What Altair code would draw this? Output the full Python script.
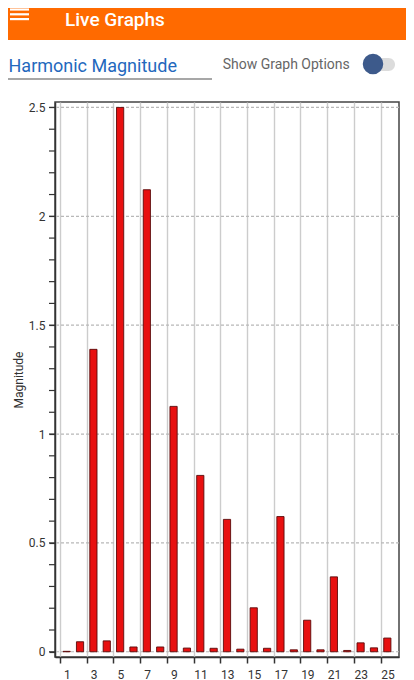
import altair as alt
import pandas as pd

# ---- data ----
harmonics = list(range(1, 26))
magnitudes = [0.002, 0.046, 1.389, 0.050, 2.500, 0.022, 2.122, 0.022, 1.127, 0.017,
              0.810, 0.016, 0.608, 0.012, 0.202, 0.016, 0.621, 0.009, 0.145, 0.009,
              0.344, 0.006, 0.041, 0.018, 0.063]
x_tick_positions = [0.5, 2.5, 4.5, 6.5, 8.5, 10.5, 12.5, 14.5, 16.5, 18.5, 20.5, 22.5, 24.5]
x_tick_labels = ["1", "3", "5", "7", "9", "11", "13", "15", "17", "19", "21", "23", "25"]
y_minor_ticks = [0.0, 0.1, 0.2, 0.3, 0.4, 0.5, 0.6, 0.7, 0.8, 0.9, 1.0, 1.1, 1.2, 1.3,
                 1.4, 1.5, 1.6, 1.7, 1.8, 1.9, 2.0, 2.1, 2.2, 2.3, 2.4, 2.5]
y_label_values = [0.0, 0.5, 1.0, 1.5, 2.0, 2.5]
y_label_texts = ["0", "0.5", "1", "1.5", "2", "2.5"]
y_grid_values = [0.0, 0.5, 1.0, 1.5, 2.0, 2.5]

app_title = "Live Graphs"
chart_title = "Harmonic Magnitude"
options_label = "Show Graph Options"
y_title = "Magnitude"

FONT = "Roboto"
W, H = 344, 555
X_DOMAIN = [0.5, 25.5]
Y_DOMAIN = [-0.024, 2.525]

df = pd.DataFrame({"harmonic": harmonics, "magnitude": magnitudes})
grid_df = pd.DataFrame({"g": y_grid_values})
minor_df = pd.DataFrame({"t": y_minor_ticks})
one = pd.DataFrame({"d": [0]})

x_label_expr = " : ".join(
    f"abs(datum.value - {p}) < 0.001 ? '{l}'" for p, l in zip(x_tick_positions, x_tick_labels)
) + " : ''"
y_label_expr = " : ".join(
    f"abs(datum.value - {v}) < 0.001 ? '{t}'" for v, t in zip(y_label_values, y_label_texts)
) + " : ''"

xscale = alt.Scale(domain=X_DOMAIN, nice=False, zero=False)
yscale = alt.Scale(domain=Y_DOMAIN, nice=False, zero=False)

bars = alt.Chart(df).mark_bar(
    width=7.2, color="#e81010", stroke="#5a0a0a", strokeWidth=0.9
).encode(
    x=alt.X("harmonic:Q", scale=xscale,
            axis=alt.Axis(values=x_tick_positions, labelExpr=x_label_expr, labelOffset=6.9,
                          grid=True, gridColor="#cccccc", gridWidth=1.4,
                          tickSize=6, labelPadding=6, title=None,
                          labelFontSize=12, labelFont=FONT, labelColor="#333333",
                          domainColor="#333333", domainWidth=1.5, tickColor="#333333",
                          tickWidth=1.5, labelFlush=False, labelOverlap=False)),
    y=alt.Y("magnitude:Q", scale=yscale,
            axis=alt.Axis(values=y_label_values, labelExpr=y_label_expr,
                          grid=False, tickSize=6, labelPadding=4,
                          labelFontSize=12, labelFont=FONT, labelColor="#333333",
                          domainColor="#333333", domainWidth=1.5, tickColor="#333333",
                          tickWidth=1.2, title=y_title, titleFont=FONT, titleFontSize=12,
                          titleFontWeight="normal", titleColor="#333333", titlePadding=3,
                          labelOverlap=False, labelFlush=False)),
)

minor = alt.Chart(minor_df).mark_rule(color="#333333", strokeWidth=1.2).encode(
    y=alt.Y("t:Q", scale=yscale), x=alt.value(-6), x2=alt.value(0)
)

hgrid = alt.Chart(grid_df).mark_rule(
    color="#b8b8b8", strokeWidth=1.2, strokeDash=[3, 2]
).encode(y=alt.Y("g:Q", scale=yscale))

# ---- app chrome (header, title field, toggle) ----
header = alt.Chart(one).mark_rect(color="#ff6a00").encode(
    x=alt.value(-55), x2=alt.value(359), y=alt.value(-102), y2=alt.value(-62)
)
burger = [
    alt.Chart(one).mark_rule(color="white", strokeWidth=2.2).encode(
        x=alt.value(-45), x2=alt.value(-26), y=alt.value(yy)
    )
    for yy in (-92.5, -87.7, -82.9)
]
title_txt = alt.Chart(one).mark_text(
    text=app_title, align="left", baseline="alphabetic", font=FONT,
    fontSize=19, fontWeight=500, color="white"
).encode(x=alt.value(10), y=alt.value(-76.5))
field_txt = alt.Chart(one).mark_text(
    text=chart_title, align="left", baseline="alphabetic", font=FONT,
    fontSize=18, color="#2368bd"
).encode(x=alt.value(-46.5), y=alt.value(-30))
field_line = alt.Chart(one).mark_rule(color="#8a8a8a", strokeWidth=1.5).encode(
    x=alt.value(-51), x2=alt.value(157), y=alt.value(-23)
)
opt_txt = alt.Chart(one).mark_text(
    text=options_label, align="left", baseline="alphabetic", font=FONT,
    fontSize=14, color="#666666"
).encode(x=alt.value(167.7), y=alt.value(-32.7))
track = alt.Chart(one).mark_rect(color="#dcdcdc", cornerRadius=6.5).encode(
    x=alt.value(311), x2=alt.value(340), y=alt.value(-44), y2=alt.value(-31)
)
thumb = alt.Chart(one).mark_point(
    filled=True, shape="circle", size=420, color="#3d5a8b", opacity=1
).encode(x=alt.value(318), y=alt.value(-38))

chart = alt.layer(
    header, *burger, title_txt, field_txt, field_line, opt_txt, track, thumb,
    hgrid, minor, bars
).properties(
    width=W, height=H,
    padding={"left": 47, "top": 94, "right": 7, "bottom": 23},
    autosize=alt.AutoSizeParams(type="none"),
).configure(
    background="white"
).configure_view(
    stroke="#444444", strokeWidth=1.5
)

chart.save("out.html", embed_options={"renderer": "svg", "actions": False})
